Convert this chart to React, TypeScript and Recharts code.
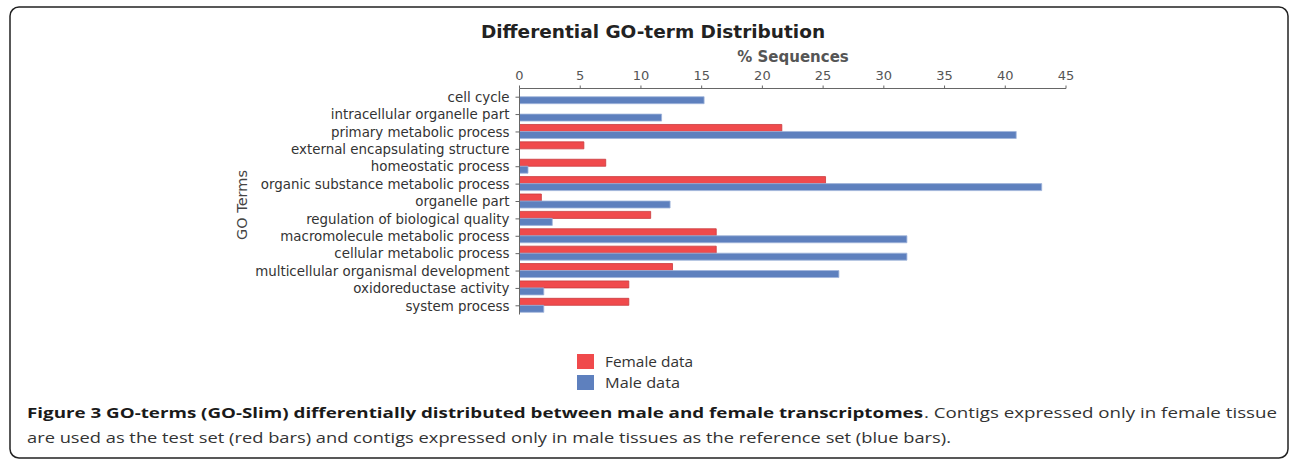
import { BarChart, Bar, XAxis, YAxis } from "recharts";

const goTerms = [
  "cell cycle",
  "intracellular organelle part",
  "primary metabolic process",
  "external encapsulating structure",
  "homeostatic process",
  "organic substance metabolic process",
  "organelle part",
  "regulation of biological quality",
  "macromolecule metabolic process",
  "cellular metabolic process",
  "multicellular organismal development",
  "oxidoreductase activity",
  "system process",
];

const femalePct = [0, 0, 21.6, 5.3, 7.1, 25.2, 1.8, 10.8, 16.2, 16.2, 12.6, 9.0, 9.0];
const malePct = [15.2, 11.7, 40.9, 0, 0.7, 43.0, 12.4, 2.7, 31.9, 31.9, 26.3, 2.0, 2.0];
const pctTicks = [0, 5, 10, 15, 20, 25, 30, 35, 40, 45];

const FEMALE = "#f04a4c";
const MALE = "#5e80be";
const PLOT_FONT = "DejaVu Sans";
const TEXT_FONT = "Open Sans";

const data = goTerms.map((term, i) => ({
  term,
  female: femalePct[i],
  male: malePct[i],
}));

export default function App() {
  return (
    <div style={{ position: "absolute", left: 0, top: 0, width: 1292, height: 460, background: "#fff" }}>
      <div style={{ position: "absolute", left: 0, top: 0 }}>
        <BarChart
          width={1292}
          height={460}
          data={data}
          layout="vertical"
          margin={{ top: 68.5, right: 226, bottom: 145.5, left: 219.5 }}
          barCategoryGap={1.2}
          barGap={0}
          style={{ fontFamily: PLOT_FONT }}
        >
          <XAxis
            type="number"
            orientation="top"
            domain={[0, 45]}
            ticks={pctTicks}
            height={20}
            tickSize={3}
            tickMargin={6}
            stroke="#666"
            tick={{ fontSize: 13, fill: "#555", fontFamily: PLOT_FONT }}
            allowDataOverflow
          />
          <YAxis
            type="category"
            dataKey="term"
            width={300}
            interval={0}
            tickSize={4}
            tickMargin={6}
            stroke="#666"
            tick={{ fontSize: 13.4, fill: "#333", fontFamily: PLOT_FONT }}
          />
          <Bar dataKey="female" fill={FEMALE} stroke="#c93b3d" strokeWidth={0.8} isAnimationActive={false} />
          <Bar dataKey="male" fill={MALE} stroke="#9fb4da" strokeWidth={0.8} isAnimationActive={false} />
        </BarChart>
      </div>
      <svg
        width={1292}
        height={460}
        style={{ position: "absolute", left: 0, top: 0, pointerEvents: "none" }}
      >
        <rect x={10} y={7} width={1278} height={451} rx={9} fill="none" stroke="#222" strokeWidth={1.5} />
        <text x={653} y={38} textAnchor="middle" fontFamily={PLOT_FONT} fontWeight="bold" fontSize={18.5} fill="#222">
          Differential GO-term Distribution
        </text>
        <text x={793} y={62} textAnchor="middle" fontFamily={PLOT_FONT} fontWeight="bold" fontSize={15} fill="#555">
          % Sequences
        </text>
        <text
          x={0}
          y={0}
          transform="translate(247,205) rotate(-90)"
          textAnchor="middle"
          fontFamily={PLOT_FONT}
          fontSize={14.5}
          fill="#444"
        >
          GO Terms
        </text>

        <rect x={577} y={354} width={17} height={15} fill={FEMALE} />
        <rect x={577} y={375} width={17} height={15} fill={MALE} />
        <text x={605} y={367} fontFamily={TEXT_FONT} fontSize={15} fill="#333" textLength={88} lengthAdjust="spacingAndGlyphs">
          Female data
        </text>
        <text x={605} y={388} fontFamily={TEXT_FONT} fontSize={15} fill="#333" textLength={75} lengthAdjust="spacingAndGlyphs">
          Male data
        </text>

        <text x={27} y={418} fontFamily={TEXT_FONT} fontSize={15} fontWeight="bold" fill="#1a1a1a" textLength={896} lengthAdjust="spacingAndGlyphs">
          Figure 3 GO-terms (GO-Slim) differentially distributed between male and female transcriptomes
        </text>
        <text x={924} y={418} fontFamily={TEXT_FONT} fontSize={15} fill="#333" textLength={353} lengthAdjust="spacingAndGlyphs">
          . Contigs expressed only in female tissue
        </text>
        <text x={27} y={443} fontFamily={TEXT_FONT} fontSize={15} fill="#333" textLength={924} lengthAdjust="spacingAndGlyphs">
          are used as the test set (red bars) and contigs expressed only in male tissues as the reference set (blue bars).
        </text>
      </svg>
    </div>
  );
}
